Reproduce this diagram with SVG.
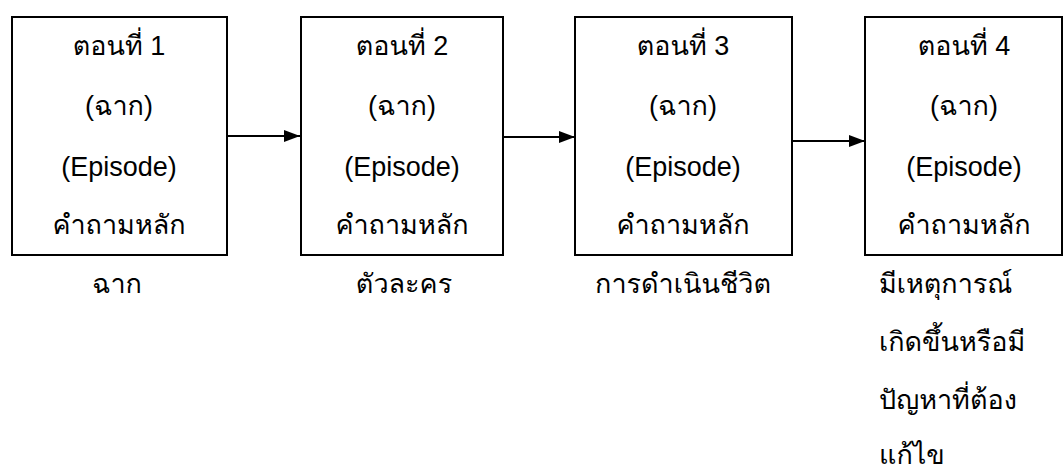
<svg xmlns="http://www.w3.org/2000/svg" width="1064" height="473" viewBox="0 0 1064 473">
<style>
.box{fill:#fff;stroke:#000;stroke-width:2}
text{font-family:"Liberation Sans","Loma","Garuda","Noto Sans Thai","DejaVu Sans",sans-serif;font-size:27px;fill:#000}
.c{text-anchor:middle}
.conn{stroke:#000;stroke-width:2;fill:none}
</style>
<defs>
<marker id="ah" markerWidth="16" markerHeight="12" refX="16" refY="6" orient="auto" markerUnits="userSpaceOnUse">
<path d="M0,0 L16,6 L0,12 Z" fill="#000"/>
</marker>
</defs>
<g id="connectors">
<line class="conn" x1="227" y1="136" x2="300" y2="136" marker-end="url(#ah)"/>
<line class="conn" x1="503" y1="137" x2="575" y2="137" marker-end="url(#ah)"/>
<line class="conn" x1="792" y1="141" x2="865" y2="141" marker-end="url(#ah)"/>
</g>
<g id="node1">
<rect class="box" x="12" y="17" width="215" height="238"/>
<text class="c" x="119" y="55">ตอนที่ 1</text>
<text class="c" x="119" y="115">(ฉาก)</text>
<text class="c" x="119" y="176">(Episode)</text>
<text class="c" x="119" y="234">คำถามหลัก</text>
</g>
<g id="node2">
<rect class="box" x="301" y="17" width="202" height="238"/>
<text class="c" x="402" y="55">ตอนที่ 2</text>
<text class="c" x="402" y="115">(ฉาก)</text>
<text class="c" x="402" y="176">(Episode)</text>
<text class="c" x="402" y="234">คำถามหลัก</text>
</g>
<g id="node3">
<rect class="box" x="575" y="17" width="217" height="238"/>
<text class="c" x="683" y="55">ตอนที่ 3</text>
<text class="c" x="683" y="115">(ฉาก)</text>
<text class="c" x="683" y="176">(Episode)</text>
<text class="c" x="683" y="234">คำถามหลัก</text>
</g>
<g id="node4">
<rect class="box" x="865" y="17" width="197" height="238"/>
<text class="c" x="964" y="55">ตอนที่ 4</text>
<text class="c" x="964" y="115">(ฉาก)</text>
<text class="c" x="964" y="176">(Episode)</text>
<text class="c" x="964" y="234">คำถามหลัก</text>
</g>
<g id="labels">
<text class="c" x="117" y="293">ฉาก</text>
<text class="c" x="404" y="293">ตัวละคร</text>
<text class="c" x="683" y="293">การดำเนินชีวิต</text>
<text x="879" y="293">มีเหตุการณ์</text>
<text x="879" y="351">เกิดขึ้นหรือมี</text>
<text x="879" y="409">ปัญหาที่ต้อง</text>
<text x="879" y="464">แก้ไข</text>
</g>
</svg>
